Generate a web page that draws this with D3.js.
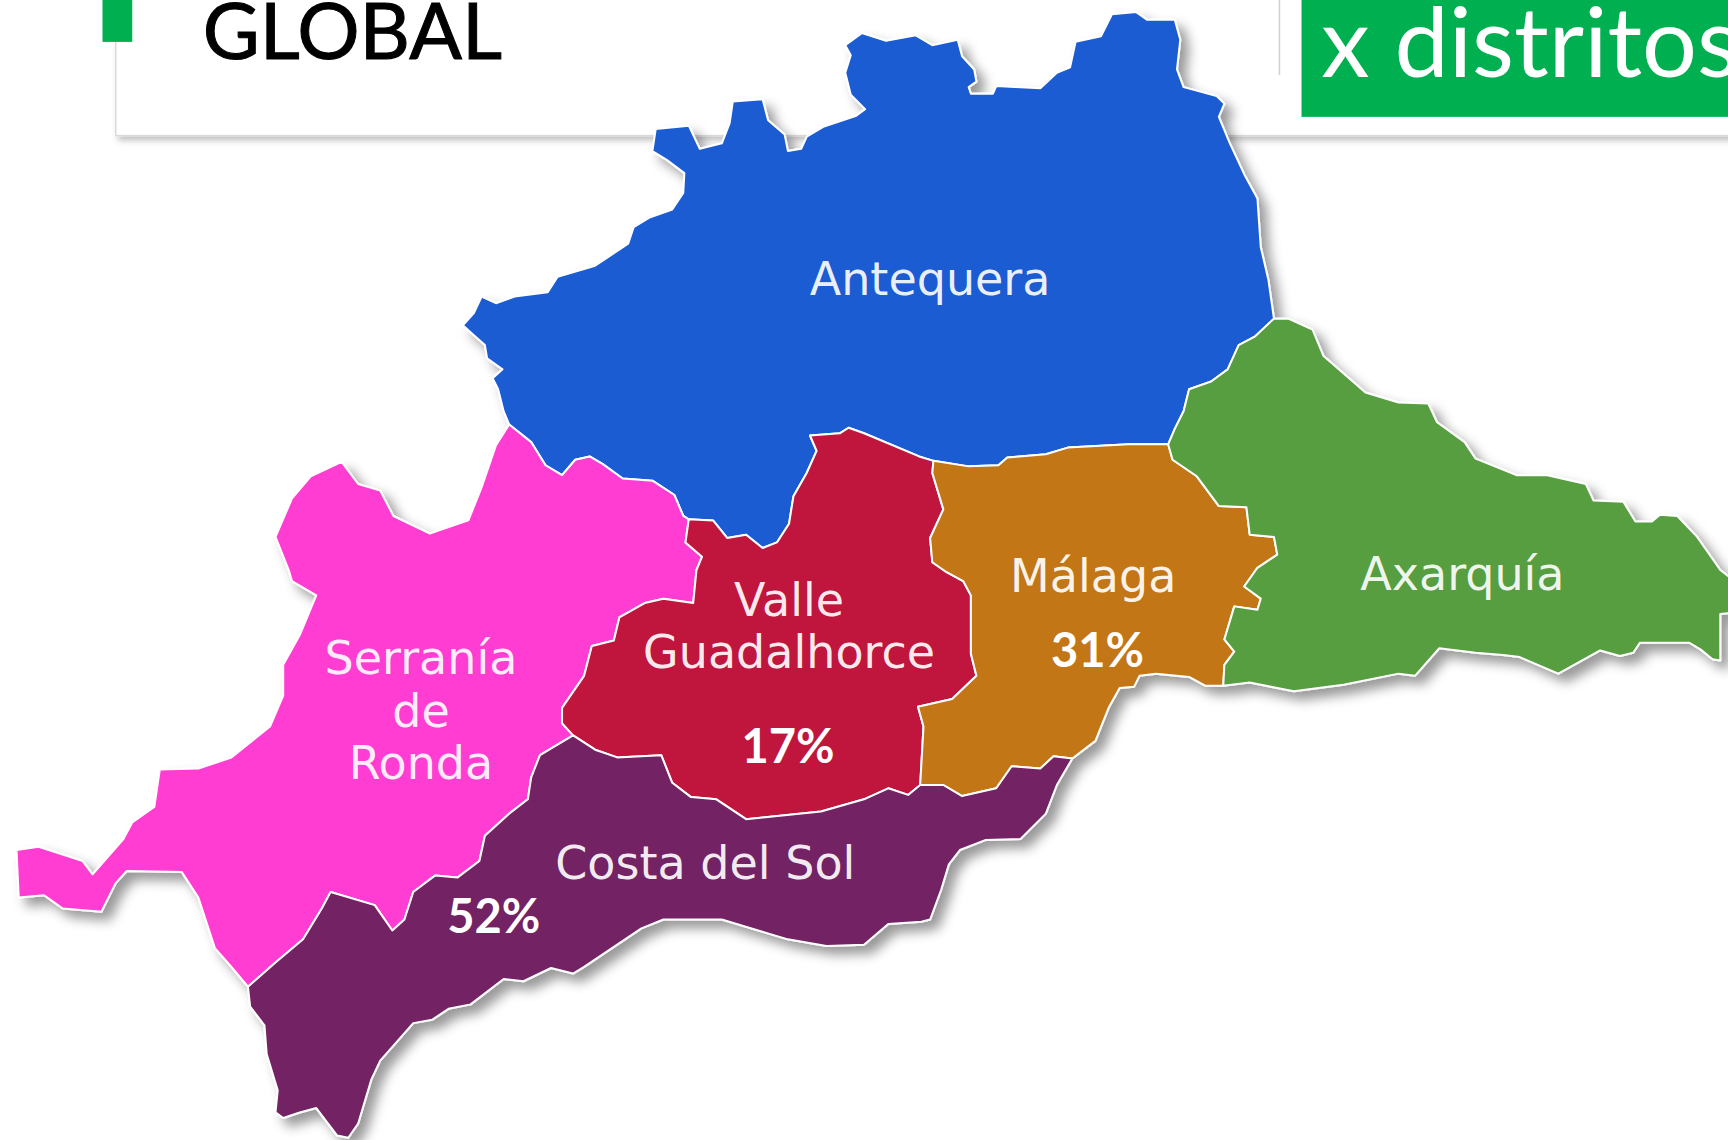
<!DOCTYPE html>
<html>
<head>
<meta charset="utf-8">
<script src="https://d3js.org/d3.v7.min.js"></script>
<style>
html, body { margin: 0; padding: 0; background: #fff; overflow: hidden; }
svg { display: block; }
.name { font-family: "DejaVu Sans", sans-serif; font-size: 46px; fill: #fff; text-anchor: middle; fill-opacity: .93; }
.pct { font-family: Lato, sans-serif; font-weight: 700; font-size: 47px; fill: #fff; text-anchor: middle; }
</style>
</head>
<body>
<div id="chart"></div>
<script>
// outline pieces (map units, 1568 wide)
var antequeraNorth = [[462,385],[457,373],[452,353],[447,343],[456,335],[442,325],[440,313],[430,304],[420,295],[430,284],[437,269],[450,275],[467,269],[497,265],[506,251],[540,241],[552,233],[570,221],[575,206],[590,197],[610,190],[620,175],[621,157],[605,145],[592,137],[595,117],[625,114],[635,135],[655,130],[662,112],[665,92],[692,90],[697,109],[712,122],[715,137],[727,135],[732,124],[747,115],[777,105],[785,99],[772,86],[767,66],[772,50],[767,41],[782,30],[804,37],[831,32],[846,41],[869,36],[873,51],[884,63],[886,74],[879,79],[881,85],[901,85],[904,78],[944,80],[959,66],[971,61],[976,38],[999,33],[1009,13],[1031,11],[1041,18],[1066,18],[1071,36],[1068,63],[1074,79],[1104,87],[1111,94],[1106,106],[1116,130],[1129,158],[1141,180],[1144,224],[1151,254],[1156,289]];
var antequeraAxarquia = [[1156,289],[1139,305],[1124,313],[1114,335],[1099,346],[1079,353],[1074,373],[1066,389],[1060,403]];
var antequeraMalaga = [[1060,403],[1024,403],[969,406],[949,412],[914,415],[906,422],[879,423],[847,418]];
var antequeraValle = [[847,418],[834,414],[784,393],[770,388],[762,393],[735,395],[741,409],[732,429],[720,450],[716,475],[705,492],[692,497],[677,485],[660,488],[647,472],[625,471]];
var antequeraSerrania = [[625,471],[620,468],[612,449],[592,436],[565,434],[547,421],[535,414],[522,417],[510,431],[495,422],[482,401],[462,385]];
var serraniaValle = [[625,471],[622,492],[637,505],[632,517],[629,547],[602,543],[585,547],[562,560],[557,581],[537,586],[530,613],[510,642],[510,656],[520,667]];
var serraniaCosta = [[520,667],[490,685],[482,705],[479,725],[462,738],[440,758],[435,781],[415,796],[395,794],[375,809],[367,834],[356,844],[340,821],[300,809],[292,824],[275,852],[250,873],[225,895]];
var serraniaOuter = [[225,895],[210,877],[195,860],[180,814],[165,791],[115,790],[105,801],[92,827],[57,824],[40,812],[17,814],[15,771],[35,768],[75,781],[84,793],[112,761],[120,746],[140,732],[145,698],[180,697],[210,687],[245,659],[257,631],[257,603],[272,576],[287,540],[265,527],[262,517],[250,487],[265,452],[282,432],[310,419],[325,439],[345,445],[357,468],[390,484],[425,472],[437,442],[450,404],[462,385]];
var valleCosta = [[520,667],[540,680],[560,687],[600,685],[610,710],[627,723],[650,725],[677,743],[745,736],[784,725],[806,715],[824,721],[835,712]];
var valleMalaga = [[835,712],[838,659],[833,641],[864,634],[886,613],[881,593],[881,540],[874,527],[859,519],[846,510],[844,488],[856,462],[846,429],[847,418]];
var malagaCosta = [[835,712],[856,712],[873,722],[904,715],[918,695],[944,697],[956,686],[973,688]];
var malagaCoast = [[973,688],[994,672],[1006,642],[1016,624],[1029,623],[1034,613],[1049,611],[1079,614],[1094,622],[1110,622]];
var malagaAxarquia = [[1110,622],[1111,603],[1120,591],[1111,580],[1120,550],[1141,553],[1144,543],[1129,532],[1141,515],[1159,503],[1156,487],[1134,485],[1131,460],[1106,459],[1086,432],[1064,417],[1060,403]];
var axarquiaOuter = [[1156,289],[1169,289],[1191,299],[1201,323],[1239,356],[1269,365],[1296,366],[1304,383],[1329,401],[1339,416],[1376,431],[1404,431],[1439,439],[1446,454],[1473,455],[1484,473],[1499,473],[1506,467],[1522,468],[1540,487],[1561,517],[1570,524],[1570,556],[1561,557],[1561,599],[1554,598],[1543,589],[1533,583],[1488,583],[1482,592],[1470,595],[1452,590],[1414,611],[1379,596],[1364,594],[1339,592],[1306,588],[1284,613],[1269,611],[1219,621],[1174,627],[1159,624],[1134,619],[1110,622]];
var costaCoast = [[973,688],[959,712],[949,738],[926,761],[894,762],[871,771],[861,784],[854,807],[844,834],[836,836],[806,838],[784,857],[750,858],[715,852],[655,834],[602,834],[582,842],[530,877],[520,883],[500,878],[475,890],[457,888],[427,911],[407,915],[392,925],[375,928],[345,962],[337,979],[325,1019],[316,1032],[306,1030],[287,1005],[272,1009],[257,1014],[250,1009],[252,989],[242,956],[240,930],[227,913],[225,895]];

var rev = function (a) { return a.slice().reverse(); };

var regionNames = ["Antequera", "Serranía", "Valle", "Málaga", "Axarquía", "Costa"];
var regionColors = ["#1a5cd2", "#ff3cd2", "#c0193c", "#c27617", "#579e41", "#732064"];
var regionRings = [
    antequeraNorth.concat(antequeraAxarquia, antequeraMalaga, antequeraValle, antequeraSerrania),
    rev(antequeraSerrania).concat(serraniaValle, serraniaCosta, serraniaOuter),
    antequeraValle.concat(serraniaValle, valleCosta, valleMalaga),
    antequeraMalaga.concat(rev(valleMalaga), malagaCosta, malagaCoast, malagaAxarquia),
    rev(antequeraAxarquia).concat(axarquiaOuter, malagaAxarquia),
    rev(serraniaCosta).concat(valleCosta, malagaCosta, costaCoast)
];

// labels
var nameLines = ["Antequera", "Valle", "Guadalhorce", "Serranía", "de", "Ronda", "Costa del Sol", "Málaga", "Axarquía"];
var nameX = [844, 716, 716, 382, 382, 382, 640, 992, 1327];
var nameY = [268, 559, 606, 611, 659, 707, 797, 537, 535];
var pctValues = [52, 17, 31];
var pctX = [448, 715, 996];
var pctY = [846, 692, 605];

var width = 1728, height = 1140;
var x = d3.scaleLinear().domain([0, 1568]).range([0, width]);
var y = d3.scaleLinear().domain([0, 1034]).range([0, height]);

var svg = d3.select("#chart").append("svg")
    .attr("width", width)
    .attr("height", height);

var defs = svg.append("defs");
defs.append("filter").attr("id", "mapShadow")
    .attr("x", "-5%").attr("y", "-5%").attr("width", "110%").attr("height", "110%")
    .append("feDropShadow")
    .attr("dx", 8).attr("dy", 8).attr("stdDeviation", 6)
    .attr("flood-color", "#000").attr("flood-opacity", 0.4);
defs.append("filter").attr("id", "cardShadow")
    .attr("x", "-2%").attr("y", "-5%").attr("width", "104%").attr("height", "120%")
    .append("feDropShadow")
    .attr("dx", 3).attr("dy", 4).attr("stdDeviation", 3)
    .attr("flood-color", "#000").attr("flood-opacity", 0.25);

// header card
svg.append("rect")
    .attr("x", x(105)).attr("y", -20)
    .attr("width", width).attr("height", y(123) + 20)
    .attr("fill", "#fff").attr("stroke", "#d9d9d9").attr("stroke-width", 1.5)
    .attr("filter", "url(#cardShadow)");
svg.append("rect")
    .attr("x", x(93)).attr("y", 0)
    .attr("width", x(27)).attr("height", y(38))
    .attr("fill", "#00b050");
svg.append("text")
    .attr("x", x(184)).attr("y", y(53.5))
    .attr("font-family", "Lato, sans-serif").attr("font-size", 78)
    .attr("stroke", "#000").attr("stroke-width", 1)
    .attr("fill", "#000").text("GLOBAL");
svg.append("line")
    .attr("x1", x(1161)).attr("x2", x(1161))
    .attr("y1", 0).attr("y2", y(68))
    .attr("stroke", "#d0d0d0").attr("stroke-width", 1.5);
svg.append("rect")
    .attr("x", x(1181)).attr("y", 0)
    .attr("width", width - x(1181)).attr("height", y(106))
    .attr("fill", "#00b050");
svg.append("text")
    .attr("x", x(1199)).attr("y", y(70))
    .attr("font-family", "Lato, sans-serif").attr("font-size", 97)
    .attr("fill", "#fff").text("x distritos");

// map
var line = d3.line()
    .x(function (d) { return x(d[0]); })
    .y(function (d) { return y(d[1]); });

svg.append("g")
    .attr("filter", "url(#mapShadow)")
    .selectAll("path")
    .data(regionNames)
    .enter()
    .append("path")
    .attr("class", "region")
    .attr("d", function (d, i) { return line(regionRings[i]) + "Z"; })
    .attr("fill", function (d, i) { return regionColors[i]; })
    .attr("stroke", "#fff")
    .attr("stroke-width", 2)
    .attr("stroke-linejoin", "round");

svg.selectAll(".name")
    .data(nameLines)
    .enter()
    .append("text")
    .attr("class", "name")
    .attr("x", function (d, i) { return x(nameX[i]); })
    .attr("y", function (d, i) { return y(nameY[i]); })
    .text(function (d) { return d; });

svg.selectAll(".pct")
    .data(pctValues)
    .enter()
    .append("text")
    .attr("class", "pct")
    .attr("x", function (d, i) { return x(pctX[i]); })
    .attr("y", function (d, i) { return y(pctY[i]); })
    .text(function (d) { return d + "%"; });
</script>
</body>
</html>
